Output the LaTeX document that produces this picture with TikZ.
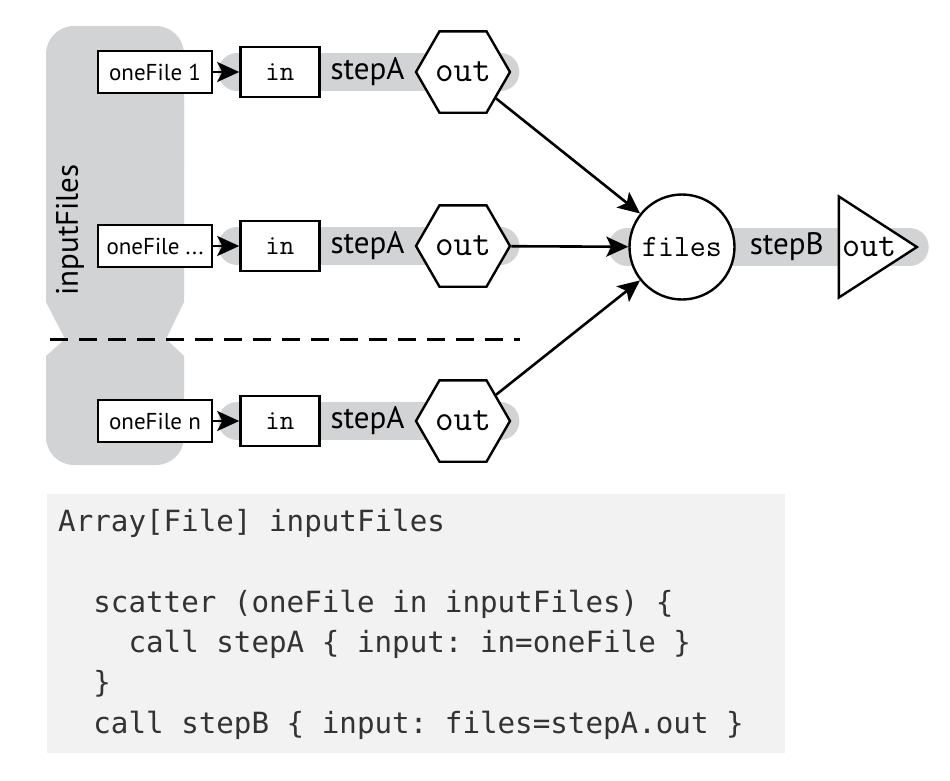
\documentclass[tikz,border=0pt]{standalone}
\usepackage{fontspec}
\setmainfont{PT Sans}
\newfontfamily\codefont{DejaVu Sans Mono}
\usepackage{xcolor}
\definecolor{wdlgray}{HTML}{D1D3D4}
\definecolor{wdlcode}{HTML}{F2F2F2}
\definecolor{wdltext}{HTML}{333333}
\usetikzlibrary{arrows.meta,positioning,calc,shapes.geometric,backgrounds}

\begin{document}
\begin{tikzpicture}[
  x=1pt,y=-1pt,
  file/.style={draw,line width=2.4pt,fill=white,minimum width=114pt,minimum height=42pt,
    inner sep=0pt,font=\fontsize{23}{23}\selectfont},
  inport/.style={draw,line width=2.4pt,fill=white,minimum width=79pt,minimum height=50pt,
    inner sep=0pt,font=\ttfamily\fontsize{28}{28}\selectfont},
  task/.style={inner sep=0pt,font=\fontsize{31}{31}\selectfont},
  outport/.style={draw,line width=2.4pt,fill=white,regular polygon,regular polygon sides=6,
    minimum size=94pt,inner sep=0pt,font=\ttfamily\fontsize{36}{36}\selectfont},
  band/.style={wdlgray,line width=38pt,line cap=round},
  arr/.style={-{Stealth[length=22pt,width=20pt,inset=5pt]},line width=2.6pt}
]
\useasboundingbox (0,0) rectangle (950,780);
% scattered input array
\fill[wdlgray,rounded corners=28pt] (46,26) rectangle (184,200);
\fill[wdlgray] (46,100) -- (46,302) -- (65,339) -- (46,356) -- (46,440) -- (184,440)
  -- (184,356) -- (166,339) -- (184,302) -- (184,100) -- cycle;
\fill[wdlgray,rounded corners=28pt] (46,380) rectangle (184,465);
\node[rotate=90,inner sep=0pt,font=\fontsize{31}{31}\selectfont] (arr) at (70,230) {inputFiles};
\coordinate (cutL) at (50,339);
\coordinate (cutR) at (520,339);
\draw[line width=3pt,dash pattern=on 18pt off 11pt] (cutL) -- (cutR);
% scatter rows
\node[file] (one1) at (155,72) {oneFile 1};
\node[inport,right=26pt of one1] (in1) {in};
\node[outport,right=94pt of in1] (hex1) {out};
\node[task] (stepA1) at ($(in1.east)!0.5!(hex1.west)$) {stepA};
\node[file] (one2) at (155,246) {oneFile ...};
\node[inport,right=26pt of one2] (in2) {in};
\node[outport,right=94pt of in2] (hex2) {out};
\node[task] (stepA2) at ($(in2.east)!0.5!(hex2.west)$) {stepA};
\node[file] (one3) at (155,421) {oneFile n};
\node[inport,right=26pt of one3] (in3) {in};
\node[outport,right=94pt of in3] (hex3) {out};
\node[task] (stepA3) at ($(in3.east)!0.5!(hex3.west)$) {stepA};
% gather
\node[circle,draw,line width=2.4pt,fill=white,minimum size=105pt,inner sep=0pt,
  font=\ttfamily\fontsize{31}{31}\selectfont] (files) at (682,247) {files};
\node[isosceles triangle,isosceles triangle stretches,draw,line width=2.4pt,fill=white,
  minimum width=101pt,minimum height=78pt,inner sep=0pt,
  font=\ttfamily\fontsize{35}{35}\selectfont,right=102pt of files] (outB) {out};
\node[task] (stepB) at ($(files.east)!0.5!(outB.west)$) {stepB};
\begin{scope}[on background layer]
\draw[band] ($(in1.west)+(-2,0)$) -- ($(hex1.east)+(-11,0)$);
\draw[band] ($(in2.west)+(-2,0)$) -- ($(hex2.east)+(-11,0)$);
\draw[band] ($(in3.west)+(-2,0)$) -- ($(hex3.east)+(-11,0)$);
\draw[band] ($(files.west)+(-1,0)$) -- ($(outB.west)+(72,0)$);
\end{scope}
\draw[arr] (one1) -- (in1);
\draw[arr] (one2) -- (in2);
\draw[arr] (one3) -- (in3);
\draw[arr] (hex1) -- (files);
\draw[arr] (hex2) -- (files);
\draw[arr] (hex3) -- (files);
% WDL source
\node[fill=wdlcode,minimum width=738pt,minimum height=259pt,anchor=north west] (codebox) at (47,494) {};
\node[anchor=base west,align=left,inner sep=0pt,text=wdltext,
  font=\codefont\fontsize{29.2}{40.3}\selectfont\frenchspacing] (code) at (58,733)
  {Array[File] inputFiles\\[40.3pt]
   \hphantom{xx}scatter (oneFile in inputFiles) \{\\
   \hphantom{xxxx}call stepA \{ input: in=oneFile \}\\
   \hphantom{xx}\}\\
   \hphantom{xx}call stepB \{ input: files=stepA.out \}};
\end{tikzpicture}
\end{document}
